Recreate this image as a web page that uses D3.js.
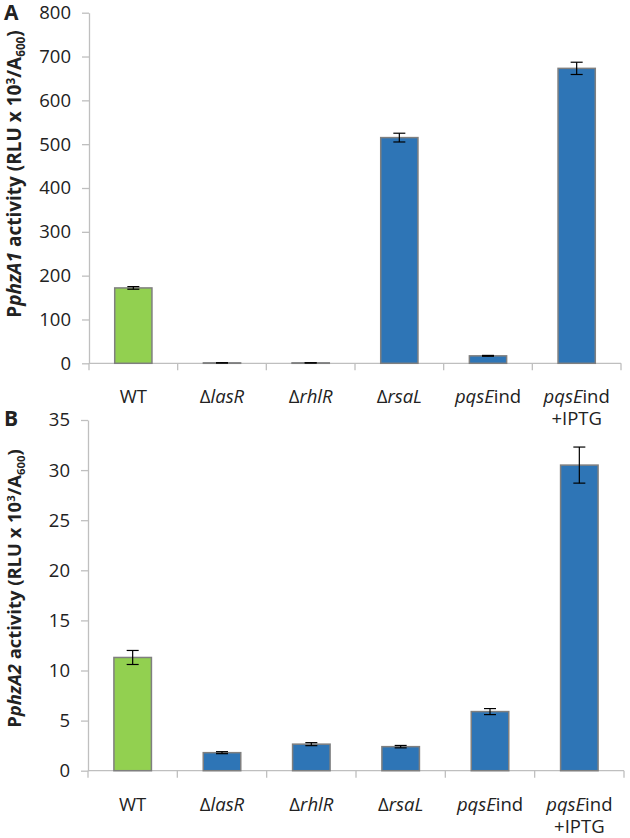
<!DOCTYPE html>
<html><head><meta charset="utf-8">
<script src="https://cdn.jsdelivr.net/npm/d3@7"></script>
<style>body{margin:0;background:#fff}svg{display:block}text{font-family:"Open Sans",sans-serif;fill:#222}</style>
</head><body>
<script>
const categories = ["WT","lasR","rhlR","rsaL","pqsEind","pqsEind+IPTG"];
const valuesA = [172, 1, 1, 515, 17, 673];
const errorsA = [3, 0.3, 0.3, 10, 1, 14];
const valuesB = [11.3, 1.8, 2.65, 2.4, 5.9, 30.5];
const errorsB = [0.7, 0.1, 0.15, 0.12, 0.3, 1.8];
const ticksA = [0,100,200,300,400,500,600,700,800];
const ticksB = [0,5,10,15,20,25,30,35];
const colors = ["#92d050","#2e75b6","#2e75b6","#2e75b6","#2e75b6","#2e75b6"];
// label parts: [text, italic]
const labelParts = {
  "WT":[[["WT",false]]],
  "lasR":[[["Δ",false],["lasR",true]]],
  "rhlR":[[["Δ",false],["rhlR",true]]],
  "rsaL":[[["Δ",false],["rsaL",true]]],
  "pqsEind":[[["pqsE",true],["ind",false]]],
  "pqsEind+IPTG":[[["pqsE",true],["ind",false]],[["+IPTG",false]]]
};

const svg = d3.select("body").append("svg").attr("width",630).attr("height",838);

function panel(opt){
  const g = svg.append("g");
  const x = d3.scaleBand().domain(categories).range([opt.x0,opt.x1]).paddingInner(0.58).paddingOuter(0.29);
  const y = d3.scaleLinear().domain([0,opt.max]).range([opt.y0,opt.yTop]);
  // y axis
  const ya = g.append("g").attr("transform",`translate(${opt.x0},0)`)
    .call(d3.axisLeft(y).tickValues(opt.ticks).tickSize(7).tickPadding(11).tickSizeOuter(0));
  ya.select(".domain").attr("stroke","#bfbfbf").attr("stroke-width",1.3);
  ya.selectAll(".tick line").attr("stroke","#bfbfbf").attr("stroke-width",1.3);
  ya.selectAll(".tick text").style("font-family","'Open Sans',sans-serif").style("font-size","18.5px").attr("fill","#222");
  // x axis
  const xa = g.append("g").attr("transform",`translate(0,${opt.y0})`);
  xa.append("line").attr("x1",opt.x0).attr("x2",opt.x1).attr("y1",0).attr("y2",0).attr("stroke","#bfbfbf").attr("stroke-width",1.3);
  const bounds = d3.range(categories.length+1).map(i=>opt.x0 + (opt.x1-opt.x0)*i/categories.length);
  xa.selectAll(".xt").data(bounds).join("line").attr("x1",d=>d).attr("x2",d=>d).attr("y1",0).attr("y2",7).attr("stroke","#bfbfbf").attr("stroke-width",1.3);
  // bars
  g.selectAll(".bar").data(categories).join("rect")
    .attr("x",d=>x(d)).attr("width",x.bandwidth())
    .attr("y",(d,i)=>y(opt.values[i])).attr("height",(d,i)=>opt.y0-y(opt.values[i]))
    .attr("fill",(d,i)=>colors[i]).attr("stroke","#7f7f7f").attr("stroke-width",1.5);
  // error bars
  const eb = g.selectAll(".eb").data(categories).join("g");
  eb.append("line").attr("x1",d=>x(d)+x.bandwidth()/2).attr("x2",d=>x(d)+x.bandwidth()/2)
    .attr("y1",(d,i)=>y(opt.values[i]+opt.errors[i])).attr("y2",(d,i)=>y(opt.values[i]-opt.errors[i]))
    .attr("stroke","#000").attr("stroke-width",1.2);
  [1,-1].forEach(s=>{
    eb.append("line").attr("x1",d=>x(d)+x.bandwidth()/2-6).attr("x2",d=>x(d)+x.bandwidth()/2+6)
      .attr("y1",(d,i)=>y(opt.values[i]+s*opt.errors[i])).attr("y2",(d,i)=>y(opt.values[i]+s*opt.errors[i]))
      .attr("stroke","#000").attr("stroke-width",1.2);
  });
  // category labels
  categories.forEach(c=>{
    labelParts[c].forEach((line,li)=>{
      const t = g.append("text").attr("x",x(c)+x.bandwidth()/2).attr("y",opt.y0+40+li*22)
        .attr("text-anchor","middle").style("font-size","18.5px");
      line.forEach(p=>t.append("tspan").text(p[0]).style("font-style",p[1]?"italic":"normal"));
    });
  });
  // y label (start-anchored, placed so it spans [labTop, labBottom])
  const fs = 16;
  const yl = g.append("text").style("font-size",fs+"px").style("font-weight","bold");
  yl.append("tspan").text("P");
  yl.append("tspan").text(opt.gene).style("font-style","italic");
  yl.append("tspan").text(" activity (RLU x 10");
  yl.append("tspan").text("3").attr("dy",-6).style("font-size","10px");
  yl.append("tspan").text("/A").attr("dy",6);
  yl.append("tspan").text("600").attr("dy",4).style("font-size","10px");
  yl.append("tspan").text(")").attr("dy",-4);
  const len = yl.node().getComputedTextLength();
  const want = opt.labBottom - opt.labTop;
  const f2 = fs * want / len;
  yl.style("font-size", f2+"px");
  yl.selectAll("tspan").filter((d,i)=>i===3||i===5).style("font-size",(f2*0.62)+"px");
  const len2 = yl.node().getComputedTextLength();
  yl.attr("transform",`translate(${opt.labX},${(opt.labTop+opt.labBottom)/2 + len2/2}) rotate(-90)`);
  // panel letter
  g.append("text").attr("x",4).attr("y",opt.letterY).text(opt.letter)
    .style("font-size","21px").style("font-weight","bold").attr("fill","#000");
}

panel({x0:89,x1:621,y0:363.3,yTop:12.7,max:800,ticks:ticksA,values:valuesA,errors:errorsA,
  gene:"phzA1",labX:21,labTop:30,labBottom:318,letter:"A",letterY:20});
panel({x0:88,x1:624,y0:770.7,yTop:420,max:35,ticks:ticksB,values:valuesB,errors:errorsB,
  gene:"phzA2",labX:21,labTop:449,labBottom:728,letter:"B",letterY:426});
</script>
</body></html>
